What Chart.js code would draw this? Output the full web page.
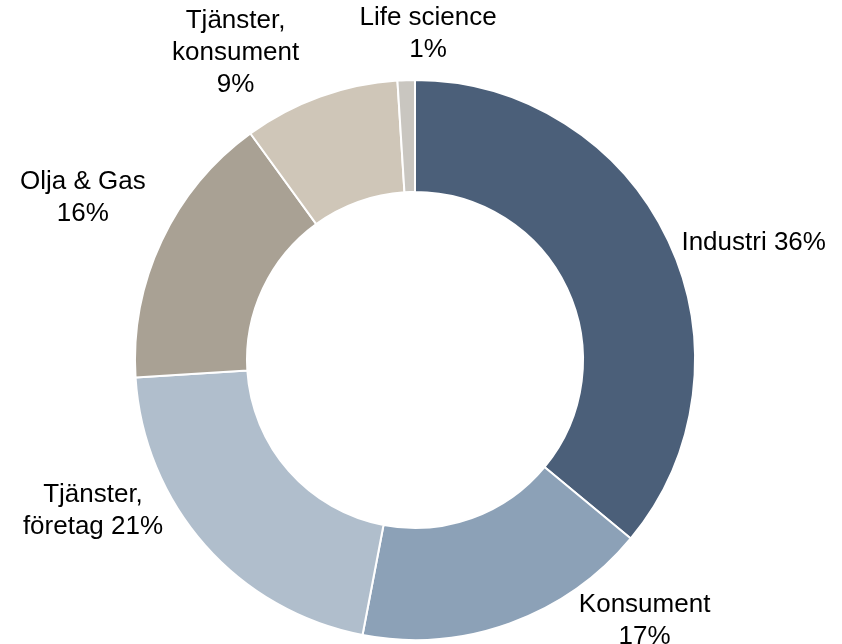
<!DOCTYPE html>
<html>
<head>
  <meta charset="utf-8" />
  <title>Fördelning per segment</title>
  <style>
    html, body { margin: 0; padding: 0; background: #fff; }
    #wrap { width: 842px; height: 644px; position: relative; }
  </style>
</head>
<body>
  <div id="wrap"><canvas id="stage"></canvas></div>

  <script src="https://cdn.jsdelivr.net/npm/chart.js@4/dist/chart.umd.min.js"></script>
  <script>
    // segment och andelar (%)
    const segments = ['Industri', 'Konsument', 'Tjänster, företag', 'Olja & Gas', 'Tjänster, konsument', 'Life science'];
    const shares = [36, 17, 21, 16, 9, 1];
    // etiketter som de står i bilden, en rad per element
    const labelLines = [
      ['Industri 36%'],
      ['Konsument', '17%'],
      ['Tjänster,', 'företag 21%'],
      ['Olja & Gas', '16%'],
      ['Tjänster,', 'konsument', '9%'],
      ['Life science', '1%']
    ];
    const colors = ['#4b5f79', '#8ca1b7', '#b0becc', '#a9a194', '#cfc6b8', '#c9c6c0'];

    // var etiketten hamnar: vinkel från klockan 12 (grader) och avstånd i ytterradier
    const labelPlace = [
      [70.9, 1.28],
      [138.6, 1.24],
      [244.9, 1.27],
      [296.0, 1.32],
      [329.7, 1.27],
      [2.3, 1.165]
    ];

    const outsideLabels = {
      id: 'outsideLabels',
      afterDraw(chart) {
        const arc = chart.getDatasetMeta(0).data[0];
        const cx = arc.x, cy = arc.y, r = arc.outerRadius;
        const ctx = chart.ctx;
        ctx.save();
        ctx.font = '26px "Liberation Sans", Arial, sans-serif';
        ctx.fillStyle = '#000';
        ctx.textAlign = 'center';
        ctx.textBaseline = 'middle';
        const lh = 32;
        labelLines.forEach((lines, i) => {
          const a = labelPlace[i][0] * Math.PI / 180;
          const d = r * labelPlace[i][1];
          const x = cx + Math.sin(a) * d;
          const y = cy - Math.cos(a) * d;
          lines.forEach((t, j) => {
            ctx.fillText(t, x, y + (j - (lines.length - 1) / 2) * lh);
          });
        });
        ctx.restore();
      }
    };

    new Chart(document.getElementById('stage'), {
      type: 'doughnut',
      data: {
        labels: segments,
        datasets: [{
          data: shares,
          backgroundColor: colors,
          borderColor: '#fff',
          borderWidth: 2
        }]
      },
      options: {
        responsive: true,
        maintainAspectRatio: false,
        animation: false,
        cutout: '60%',
        layout: { padding: { left: 134, right: 146, top: 79, bottom: 3 } },
        plugins: {
          legend: { display: false },
          tooltip: { enabled: false }
        }
      },
      plugins: [outsideLabels]
    });
  </script>
</body>
</html>
